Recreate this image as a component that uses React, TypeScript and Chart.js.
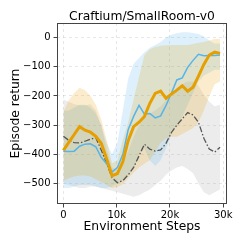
import React, { useEffect, useRef } from "react";
import { Chart, registerables } from "chart.js";

Chart.register(...registerables);

const FONT = "'DejaVu Sans', 'Liberation Sans', sans-serif";

const titleText = "Craftium/SmallRoom-v0";
const xLabel = "Environment Steps";
const yLabel = "Episode return";

const xTicks = [0, 10000, 20000, 30000];
const yTicks = [-500, -400, -300, -200, -100, 0];

const steps = [
  0, 1014, 2028, 3041, 4055, 5069, 6083, 7097, 8110, 9124, 10138, 11152, 12166, 13179, 14193,
  15207, 16221, 17234, 18248, 19262, 20276, 21290, 22303, 23317, 24331, 25345, 26359, 27372, 28386, 29400,
];

const orangeMean = [
  -386, -359, -332, -305, -317, -324, -338, -362, -415, -473, -466, -425, -352, -305, -290,
  -270, -225, -191, -183, -208, -193, -180, -165, -184, -170, -132, -92, -60, -50, -54,
];
const orangeUpper = [
  -255, -215, -190, -172, -180, -200, -230, -280, -350, -430, -420, -350, -290, -210, -135,
  -60, -40, -32, -28, -26, -25, -25, -25, -25, -22, -18, -15, -10, -5, -5,
];
const orangeLower = [
  -490, -482, -476, -472, -472, -476, -485, -495, -505, -515, -512, -502, -482, -462, -445,
  -432, -420, -390, -360, -345, -340, -340, -330, -320, -310, -290, -250, -200, -160, -150,
];

const blueMean = [
  -389, -390, -389, -372, -365, -364, -374, -410, -432, -460, -445, -400, -315, -270, -232,
  -262, -260, -275, -268, -232, -190, -145, -138, -102, -78, -57, -62, -61, -61, -60,
];
const blueUpper = [
  -250, -250, -240, -230, -230, -240, -260, -300, -360, -400, -360, -250, -140, -90, -70,
  -50, -35, -25, -15, 0, 10, 15, 18, 18, 16, 12, 5, -10, -20, -20,
];
const blueLower = [
  -515, -515, -510, -505, -505, -505, -510, -515, -515, -510, -500, -490, -470, -450, -400,
  -380, -420, -440, -420, -380, -330, -300, -270, -230, -190, -150, -130, -120, -110, -110,
];

const grayMean = [
  -338, -352, -360, -361, -355, -348, -343, -385, -430, -480, -497, -490, -470, -445, -405,
  -365, -382, -389, -385, -362, -325, -300, -278, -257, -265, -290, -345, -382, -392, -376,
];
const grayUpper = [
  -212, -220, -228, -232, -232, -228, -250, -300, -380, -445, -455, -430, -390, -340, -300,
  -270, -260, -250, -235, -215, -195, -175, -160, -150, -150, -165, -195, -220, -235, -230,
];
const grayLower = [
  -500, -505, -510, -515, -515, -510, -510, -515, -520, -525, -530, -535, -540, -545, -540,
  -530, -520, -505, -490, -470, -455, -445, -440, -450, -465, -500, -530, -540, -530, -520,
];

const pts = (ys: number[]) => ys.map((y, i) => ({ x: steps[i], y }));

const framePlugin = {
  id: "frameAndTitle",
  afterDatasetsDraw(chart: any) {
    const { ctx, chartArea } = chart;
    const { left, top, right, bottom } = chartArea;
    ctx.save();
    ctx.strokeStyle = "#444";
    ctx.lineWidth = 1;
    ctx.strokeRect(Math.round(left) + 0.5, Math.round(top) + 0.5, Math.round(right - left) - 1, Math.round(bottom - top) - 1);
    ctx.fillStyle = "#000";
    ctx.font = `12.3px ${FONT}`;
    ctx.textAlign = "center";
    ctx.textBaseline = "alphabetic";
    ctx.fillText(titleText, (left + right) / 2, top - 2.6);
    ctx.restore();
  },
};

const bandSet = (data: number[], fill: any, color: string) => ({
  data: pts(data),
  borderWidth: 0,
  borderColor: "rgba(0,0,0,0)",
  backgroundColor: color,
  pointRadius: 0,
  fill,
});

export default function App() {
  const ref = useRef<HTMLCanvasElement | null>(null);

  useEffect(() => {
    if (!ref.current) return;
    const chart = new Chart(ref.current, {
      type: "line",
      data: {
        datasets: [
          { data: pts(orangeMean), borderColor: "#E69F00", borderWidth: 3, pointRadius: 0, fill: false },
          { data: pts(blueMean), borderColor: "#56B4E9", borderWidth: 1.5, pointRadius: 0, fill: false },
          {
            data: pts(grayMean),
            borderColor: "#555555",
            borderWidth: 1.3,
            borderDash: [6, 2, 1.5, 2],
            pointRadius: 0,
            fill: false,
          },
          bandSet(orangeUpper, false, "rgba(0,0,0,0)"),
          bandSet(orangeLower, "-1", "rgba(230,159,0,0.2)"),
          bandSet(blueUpper, false, "rgba(0,0,0,0)"),
          bandSet(blueLower, "-1", "rgba(86,180,233,0.2)"),
          bandSet(grayUpper, false, "rgba(0,0,0,0)"),
          bandSet(grayLower, "-1", "rgba(140,140,140,0.17)"),
        ] as any,
      },
      options: {
        animation: false,
        responsive: false,
        devicePixelRatio: 1,
        layout: { padding: { left: 0, right: 17, top: 23, bottom: 0 } },
        plugins: {
          legend: { display: false },
          tooltip: { enabled: false },
          title: { display: false },
        },
        scales: {
          x: {
            type: "linear",
            min: -1200,
            max: 30700,
            afterBuildTicks: (s: any) => {
              s.ticks = xTicks.map((v) => ({ value: v }));
            },
            afterFit: (s: any) => {
              s.height = 40;
            },
            ticks: {
              callback: (v: any) => (v === 0 ? "0" : `${v / 1000}k`),
              font: { family: FONT, size: 10 },
              color: "#000",
              maxRotation: 0,
              padding: 2,
            },
            grid: {
              color: "rgba(0,0,0,0.12)",
              lineWidth: 0.8,
              drawTicks: true,
              tickLength: 3.5,
              tickColor: "#444",
              tickWidth: 1,
              tickBorderDash: [],
            } as any,
            border: { display: false, dash: [3, 3] },
            title: {
              display: true,
              text: xLabel,
              color: "#000",
              font: { family: FONT, size: 12.3 },
              padding: { top: 0, bottom: 10 },
            },
          },
          y: {
            type: "linear",
            min: -570,
            max: 50,
            afterBuildTicks: (s: any) => {
              s.ticks = yTicks.map((v) => ({ value: v }));
            },
            afterFit: (s: any) => {
              s.width = 57;
            },
            ticks: {
              callback: (v: any) => (v < 0 ? `\u2212${Math.abs(v)}` : `${v}`),
              font: { family: FONT, size: 10 },
              color: "#000",
              padding: 3,
            },
            grid: {
              color: "rgba(0,0,0,0.12)",
              lineWidth: 0.8,
              drawTicks: true,
              tickLength: 3.5,
              tickColor: "#444",
              tickWidth: 1,
              tickBorderDash: [],
            } as any,
            border: { display: false, dash: [3, 3] },
            title: {
              display: true,
              text: yLabel,
              color: "#000",
              font: { family: FONT, size: 12.3 },
              padding: { top: 8, bottom: 0 },
            },
          },
        },
      } as any,
      plugins: [framePlugin],
    });
    return () => chart.destroy();
  }, []);

  return (
    <div style={{ position: "absolute", left: 0, top: 0, width: 244, height: 244, background: "#fff" }}>
      <canvas ref={ref} width={244} height={244} />
    </div>
  );
}
